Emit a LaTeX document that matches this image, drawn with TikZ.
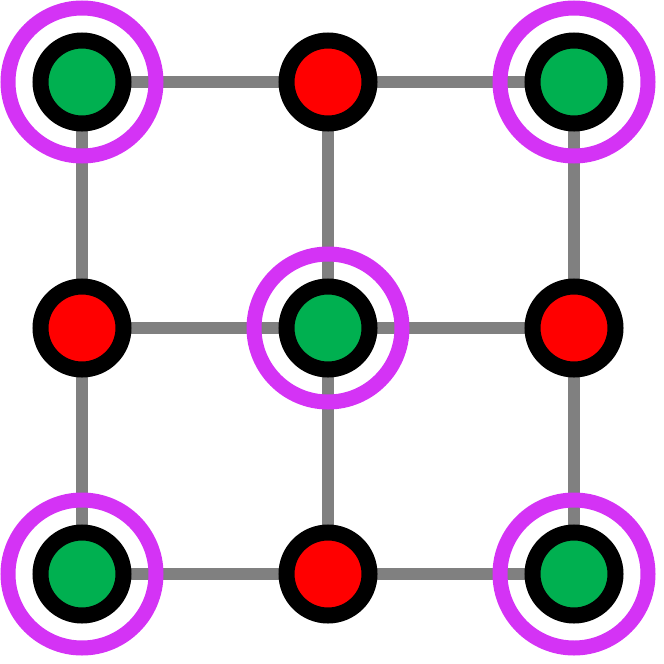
\documentclass[tikz,border=0pt]{standalone}
\definecolor{gr}{HTML}{00B050}
\definecolor{mg}{HTML}{D433F5}
\definecolor{ln}{HTML}{808080}
\tikzset{
 vert/.style={circle,draw=black,line width=16pt,minimum size=83pt,inner sep=0pt},
 gv/.style={vert,fill=gr},
 rv/.style={vert,fill=red},
 ring/.style={circle,draw=mg,line width=15pt,minimum size=148pt,inner sep=0pt},
 edge/.style={ln,line width=12pt}
}
\begin{document}
\begin{tikzpicture}[x=1pt,y=-1pt]
\useasboundingbox (0,0) rectangle (664,664);
\coordinate (a1) at (82,82); \coordinate (a2) at (328,82); \coordinate (a3) at (574,82);
\coordinate (b1) at (82,328); \coordinate (b2) at (328,328); \coordinate (b3) at (574,328);
\coordinate (c1) at (82,574); \coordinate (c2) at (328,574); \coordinate (c3) at (574,574);
\draw[edge] (a1)--(a3) (b1)--(b3) (c1)--(c3) (a1)--(c1) (a2)--(c2) (a3)--(c3);
\foreach \p in {a1,a3,b2,c1,c3} \node[ring] (r\p) at (\p) {};
\foreach \p in {a1,a3,b2,c1,c3} \node[gv] (n\p) at (\p) {};
\foreach \p in {a2,b1,b3,c2} \node[rv] (n\p) at (\p) {};
\end{tikzpicture}
\end{document}
